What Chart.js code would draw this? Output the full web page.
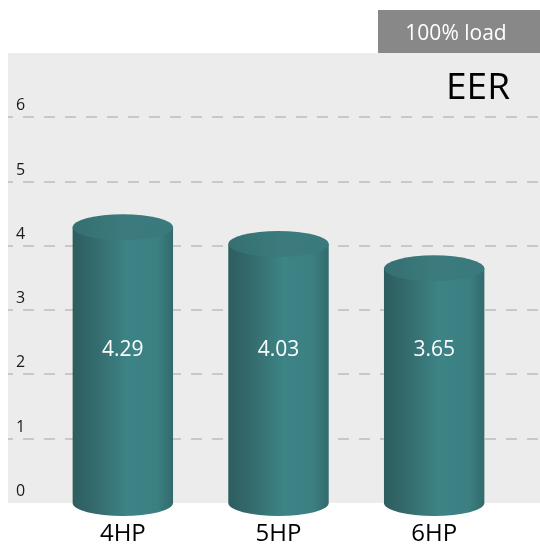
<!DOCTYPE html>
<html>
<head>
<meta charset="utf-8">
<script src="https://cdn.jsdelivr.net/npm/chart.js@4/dist/chart.umd.min.js"></script>
<style>
  html, body { margin: 0; padding: 0; background: #fff; }
  #wrap { width: 540px; height: 544px; }
</style>
</head>
<body>
<div id="wrap"><canvas id="eer-canvas"></canvas></div>
<script>
const categories = ["4HP", "5HP", "6HP"];
const eerValues = [4.29, 4.03, 3.65];
const yTicks = [0, 1, 2, 3, 4, 5, 6];
const chartTitle = "EER";
const loadLabel = "100% load";

const FONT = "'Open Sans', 'DejaVu Sans', sans-serif";

// фон, сетка, подписи оси Y и заголовки
const backdrop = {
    id: 'backdrop',
    beforeDatasetsDraw(chart) {
        const { ctx, chartArea, scales } = chart;
        const y = scales.y;
        ctx.save();
        ctx.fillStyle = '#ececec';
        ctx.fillRect(8, chartArea.top, 540 - 8, chartArea.bottom - chartArea.top);

        ctx.strokeStyle = '#c8c8c8';
        ctx.lineWidth = 2;
        ctx.setLineDash([11, 10]);
        ctx.lineDashOffset = 6;
        ctx.fillStyle = '#1a1a1a';
        ctx.font = '16px ' + FONT;
        ctx.textAlign = 'left';
        ctx.textBaseline = 'bottom';
        yTicks.forEach(t => {
            const py = Math.round(y.getPixelForValue(t));
            if (t > 0) {
                ctx.beginPath();
                ctx.moveTo(8, py);
                ctx.lineTo(540, py);
                ctx.stroke();
            }
            ctx.fillText(String(t), 16, py - 4);
        });
        ctx.setLineDash([]);

        // плашка "100% load"
        ctx.fillStyle = '#888888';
        ctx.fillRect(378, 10, 162, chartArea.top - 10);
        ctx.fillStyle = '#ffffff';
        ctx.font = '21px ' + FONT;
        ctx.textAlign = 'center';
        ctx.textBaseline = 'alphabetic';
        ctx.fillText(loadLabel, 456, 40);

        ctx.fillStyle = '#000000';
        ctx.font = '37px ' + FONT;
        ctx.textAlign = 'right';
        ctx.fillText(chartTitle, 510, 99);
        ctx.restore();
    }
};

// цилиндры вместо прямоугольников
const cylinders = {
    id: 'cylinders',
    afterDatasetsDraw(chart) {
        const { ctx, scales } = chart;
        const meta = chart.getDatasetMeta(0);
        const ry = 13;
        ctx.save();
        meta.data.forEach((bar, i) => {
            const { x, y, base, width } = bar.getProps(['x', 'y', 'base', 'width'], true);
            const rx = width / 2;
            const left = x - rx, right = x + rx;

            const g = ctx.createLinearGradient(left, 0, right, 0);
            g.addColorStop(0, '#2d5d5f');
            g.addColorStop(0.2, '#33696b');
            g.addColorStop(0.55, '#3d8486');
            g.addColorStop(0.85, '#3b7f81');
            g.addColorStop(1, '#326a6c');

            ctx.beginPath();
            ctx.moveTo(left, y);
            ctx.lineTo(left, base);
            ctx.ellipse(x, base, rx, ry, 0, Math.PI, 0, true);
            ctx.lineTo(right, y);
            ctx.closePath();
            ctx.fillStyle = g;
            ctx.fill();

            const gt = ctx.createLinearGradient(left, 0, right, 0);
            gt.addColorStop(0, '#356f71');
            gt.addColorStop(0.5, '#3b7b7d');
            gt.addColorStop(1, '#3a7a7c');
            ctx.beginPath();
            ctx.ellipse(x, y, rx, ry, 0, 0, Math.PI * 2);
            ctx.fillStyle = gt;
            ctx.fill();

            ctx.fillStyle = '#ffffff';
            ctx.font = '21px ' + FONT;
            ctx.textAlign = 'center';
            ctx.textBaseline = 'middle';
            ctx.fillText(eerValues[i].toFixed(2), x, scales.y.getPixelForValue(2.38));
        });
        ctx.restore();
    }
};

document.addEventListener("DOMContentLoaded", () => {
    const ctx = document.getElementById('eer-canvas').getContext('2d');
    new Chart(ctx, {
        type: 'bar',
        data: {
            labels: categories,
            datasets: [{
                label: chartTitle,
                data: eerValues,
                backgroundColor: 'rgba(0,0,0,0)',
                borderWidth: 0,
                barPercentage: 0.645,
                categoryPercentage: 1
            }]
        },
        options: {
            responsive: true,
            maintainAspectRatio: false,
            animation: false,
            layout: {
                padding: { top: 53, left: 45, right: 28, bottom: 0 }
            },
            scales: {
                y: {
                    display: false,
                    min: 0,
                    max: 7
                },
                x: {
                    grid: { display: false },
                    border: { display: false },
                    afterFit(scale) { scale.height = 41; },
                    ticks: {
                        color: '#000',
                        padding: 9,
                        font: { family: FONT, size: 24 }
                    }
                }
            },
            plugins: {
                legend: { display: false },
                tooltip: { enabled: false }
            }
        },
        plugins: [backdrop, cylinders]
    });
});
</script>
</body>
</html>
